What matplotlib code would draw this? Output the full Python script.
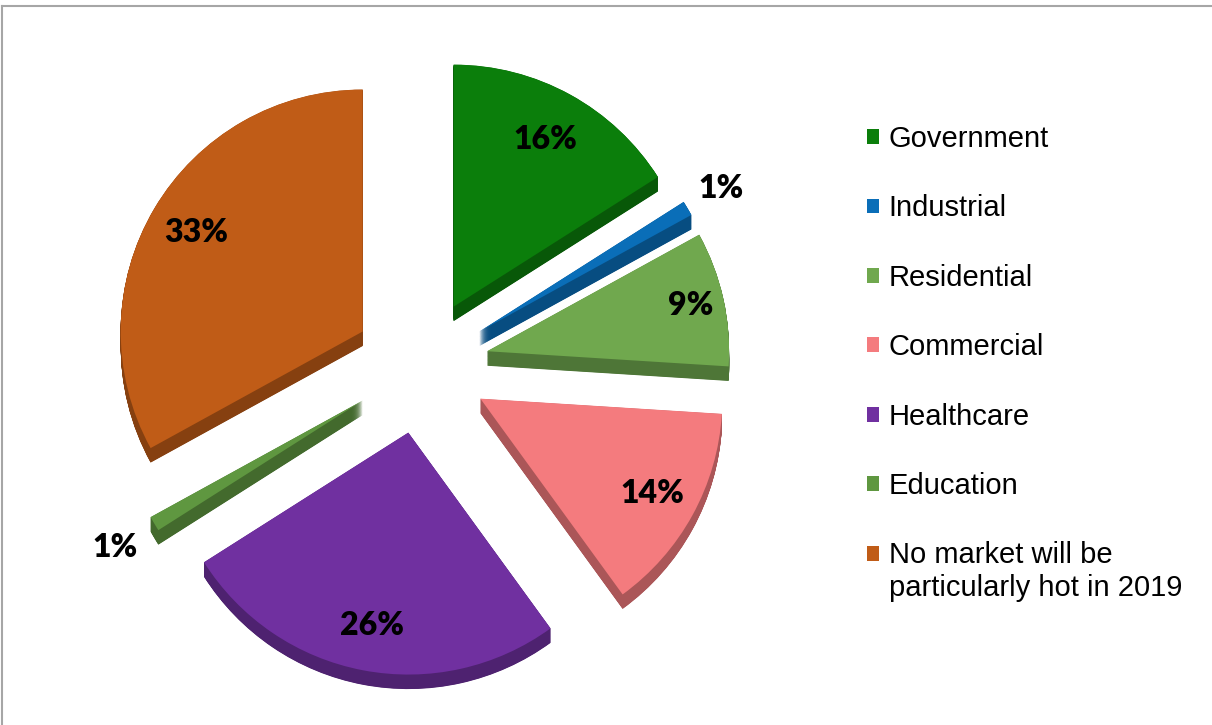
import numpy as np
import matplotlib.pyplot as plt
from matplotlib.colors import to_rgb
from matplotlib.lines import Line2D
from matplotlib.patches import Rectangle
from matplotlib.legend_handler import HandlerPatch

# share of respondents expecting each market to be hottest in 2019
labels = ['Government', 'Industrial', 'Residential', 'Commercial',
          'Healthcare', 'Education',
          'No market will be\nparticularly hot in 2019']
shares = [16, 1, 9, 14, 26, 1, 33]
colors = ['#0b7e0b', '#0a6eb8', '#70a84e', '#f47b7e',
          '#7030a0', '#5f9740', '#c05c17']

# where each percentage label sits, relative to its wedge
label_dist = [0.79, 1.16, 0.86, 0.81, 0.81, 1.19, 0.80]

fig = plt.figure(figsize=(12.12, 7.25), dpi=100)
ax = fig.add_axes([0, 0, 1, 1])

explode = [0.28] * len(shares)
depth = 0.06
side = [tuple(c * 0.7 for c in to_rgb(col)) for col in colors]

# fake 3d: stack darker copies underneath
for k in np.linspace(depth, 0.001, 40):
    ax.pie(shares, explode=explode, colors=side, startangle=90,
           counterclock=False, center=(0, -k))

wedges, _ = ax.pie(shares, explode=explode, colors=colors, startangle=90,
                   counterclock=False)

for w, v, d in zip(wedges, shares, label_dist):
    mid = np.deg2rad((w.theta1 + w.theta2) / 2)
    cx, cy = w.center
    ax.text(cx + d * np.cos(mid), cy + d * np.sin(mid), f'{v}%',
            ha='center', va='center', fontsize=23, fontweight='heavy',
            family='Lato', color='black')

ax.set_xlim(-421 / 242, (1212 - 421) / 242)
ax.set_ylim((366 - 725) / 242, 366 / 242)
ax.set_aspect('auto')
ax.axis('off')


# square for the two-line entry sits next to its first line
def top_square(legend, orig_handle, xdescent, ydescent, width, height, fontsize):
    return Rectangle((-xdescent, -ydescent + 0.65 * fontsize), width, height)


ax.legend(wedges, labels, loc='upper left',
          bbox_to_anchor=(867 / 1212, 1 - 125 / 725),
          bbox_transform=fig.transFigure, frameon=False,
          handlelength=0.4, handleheight=0.4, handletextpad=0.34,
          labelspacing=1.42, borderpad=0, borderaxespad=0,
          handler_map={wedges[-1]: HandlerPatch(patch_func=top_square)},
          prop={'family': 'Liberation Sans', 'size': 21})

# grey chart border (only top and left are inside the crop)
fig.add_artist(Line2D([2.5 / 1212, 1], [1 - 5.5 / 725, 1 - 5.5 / 725],
                      color='#a6a6a6', lw=1.5))
fig.add_artist(Line2D([2.5 / 1212, 2.5 / 1212], [0, 1 - 5.5 / 725],
                      color='#a6a6a6', lw=1.5))

fig.savefig('out.png', dpi=100)
